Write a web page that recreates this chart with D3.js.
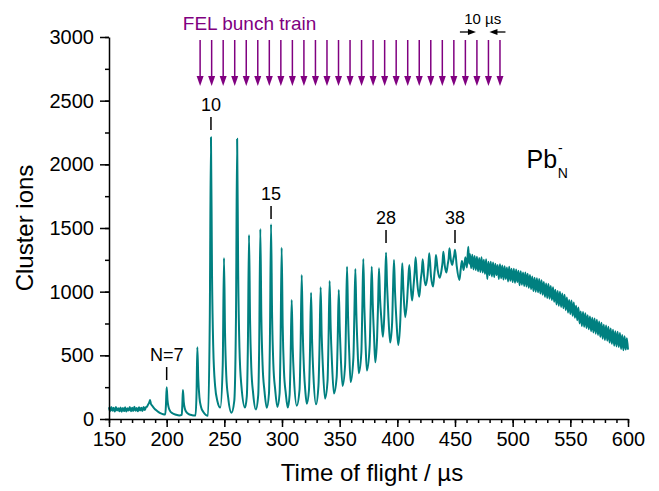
<!DOCTYPE html>
<html>
<head>
<meta charset="utf-8">
<script src="https://cdn.jsdelivr.net/npm/d3@7"></script>
<style>
  body { margin: 0; background: #fff; }
  text { font-family: "Liberation Sans", Arial, sans-serif; }
</style>
</head>
<body>
<div id="wrapper"></div>
<script>
// onset: flat background and the first small clusters (time in µs, ion counts)
const onsetSpectrum = [
  [150,92],[151,60],[152,94],[153,64],[154,88],[155,58],[156,95],[157,66],[158,84],[159,60],
  [160,90],[161,57],[162,86],[163,62],[164,92],[165,58],[166,85],[167,66],[168,94],[169,60],
  [170,88],[171,62],[172,96],[173,64],[174,86],[175,60],[176,92],[177,66],[178,88],[179,62],
  [180,95],[181,70],[182,92],[183,98],[184,115],[185,132],[185.6,150],[186.3,120],[187.5,104],
  [189,86],[191,68],[193,54],[195,44],[197,38],[198.8,36],[199.4,115],[200,249],[200.7,150],
  [201.6,95],[203,62],[205,45],[208,34],[211,28],[213.1,32],[213.6,115],[214.1,228],[214.8,135],
  [215.8,80],[217.3,52],[219.5,37],[222,30],[225,27],[225.9,200],[226.6,563],[227.4,320],
  [228.4,170],[229.8,95],[231.8,55],[234,32]
]

// resolved cluster peaks N = 10 ... 38
const peakSpectrum = [
  [235.8,25],[237.4,800],[238.4,2212],[239.3,1150],[240.4,560],[242,260],[244,140],[246.5,90],
  [248.6,420],[249.7,1264],[250.6,680],[251.7,340],[253.3,170],[256.2,50],
  [258.6,140],[260.1,800],[261.1,2200],[262,1150],[263.1,560],[264.8,260],[267.9,90],
  [269.5,180],[270.4,560],[271.4,1445],[272.3,780],[273.4,400],[275,200],[277.3,75],
  [279.4,190],[280.2,560],[281.2,1492],[282.1,800],[283.2,420],[284.8,220],[286.8,88],
  [288.7,200],[289.5,600],[290.5,1529],[291.4,820],[292.5,430],[294.1,230],[296,95],
  [297.9,200],[298.7,560],[299.7,1345],[300.6,730],[301.7,380],[303.3,200],[305,90],
  [306.6,190],[307.4,450],[308.4,935],[309.3,560],[310.4,320],[312.8,105],
  [315.2,230],[316.1,560],[317.1,1131],[318,680],[319.1,380],[320.3,210],[321.5,120],
  [323.4,230],[324.2,500],[325.2,992],[326.1,610],[327.2,350],[329.5,115],
  [331.6,260],[332.5,550],[333.5,1034],[334.4,660],[335.5,400],[337.3,160],
  [339.5,300],[340.3,600],[341.3,1084],[342.2,720],[343.3,450],[345,200],
  [347.4,330],[348.3,620],[349.2,1013],[350.1,700],[351.1,460],[352.5,260],
  [354.7,420],[355.5,760],[356.4,1196],[357.3,800],[358.3,520],[359.5,290],
  [361.9,480],[362.7,800],[363.6,1178],[364.5,820],[365.5,560],[366.6,360],
  [368.8,520],[369.6,850],[370.5,1257],[371.4,880],[372.4,600],[373.6,380],
  [376,570],[376.9,880],[377.8,1196],[378.7,900],[379.8,650],[380.9,445],
  [382.5,650],[383.3,900],[384.1,1183],[385,950],[386.2,780],[387.5,645],
  [388.7,820],[389.4,1050],[390.2,1306],[391.1,1050],[392.3,800],[393.8,600],
  [395.5,760],[396.2,1000],[397.1,1249],[398,1000],[399.3,760],[400.8,581],
  [402.6,780],[403.5,1030],[404.3,1223],[405.2,1030],[406.8,800],
  [408.6,950],[409.5,1100],[410.4,1209],[411.5,1060],[412.8,930],
  [414.2,1060],[415,1150],[415.9,1270],[417.2,1080],[419,960],
  [420.4,1100],[421.2,1160],[422,1254],[423.2,1120],[424.5,1050],
  [426.2,1130],[427,1220],[427.7,1301],[429.2,1120],[431,1040],
  [432.2,1150],[432.8,1200],[433.5,1288],[435,1170],[436.8,1110],
  [438.5,1180],[439.2,1230],[439.9,1314],[441.2,1200],[442.5,1150],
  [443.8,1220],[444.5,1260],[445.2,1340],[446.4,1250],[447.6,1210],
  [448.7,1260],[449.4,1290],[450,1330],[451.5,1200],[453.8,1092],
  [455,1180],[456,1240],[457.5,1170],[459,1270],[460.3,1190],[461.5,1353],[462.3,1220]
]

// unresolved tail, one reading per µs from 463 µs on
const tailStart = 463
const tailCounts = [
  1295, 1185, 1290, 1175, 1280, 1170, 1275, 1160,
  1265, 1155, 1270, 1150, 1250, 1140, 1255, 1100, 1235, 1130,
  1235, 1120, 1230, 1115, 1220, 1130, 1210, 1100, 1215, 1105,
  1205, 1095, 1200, 1100, 1190, 1080, 1195, 1085, 1180, 1075,
  1180, 1070, 1175, 1075, 1165, 1050, 1160, 1055, 1150, 1045,
  1150, 1040, 1140, 1030, 1130, 1020, 1120, 1005, 1110, 1000,
  1105, 995, 1100, 985, 1090, 975, 1075, 960, 1065, 950,
  1060, 945, 1045, 935, 1035, 920, 1015, 900, 1005, 890,
  1000, 880, 985, 870, 975, 855, 955, 835, 935, 825,
  930, 810, 915, 795, 890, 775, 875, 750, 845, 730,
  840, 725, 830, 715, 815, 705, 805, 690, 795, 680,
  790, 670, 780, 660, 765, 645, 755, 630, 740, 620,
  735, 615, 725, 600, 710, 590, 700, 575, 690, 570,
  685, 565, 675, 550, 660, 540, 650, 545, 635, 545
]

const xTickValues = [150, 200, 250, 300, 350, 400, 450, 500, 550, 600]
const yTickValues = [0, 500, 1000, 1500, 2000, 2500, 3000]

const peakLabels = ['N=7', '10', '15', '28', '38']
const peakLabelTimes = [200, 238.4, 290.5, 390.2, 450]
const peakLabelLevels = [306, 2270, 1571, 1382, 1382]

const bunchTimes = [229, 239, 249, 259, 269, 279, 289, 299, 309, 319, 329, 339, 349, 359,
  369, 379, 389, 399, 409, 419, 429, 439, 449, 459, 469, 479, 489]

const drawSpectrum = () => {
    const dimensions = {
        width: 659,
        height: 491,
        margin: { top: 37, right: 31, bottom: 72, left: 109 }
    }
    dimensions.boundedWidth = dimensions.width - dimensions.margin.left - dimensions.margin.right
    dimensions.boundedHeight = dimensions.height - dimensions.margin.top - dimensions.margin.bottom

    const wrapper = d3.select('#wrapper')
        .append('svg')
        .attr('width', dimensions.width)
        .attr('height', dimensions.height)
        .style('background-color', '#ffffff')

    const bounds = wrapper.append('g')
        .attr('transform', `translate(${dimensions.margin.left}, ${dimensions.margin.top})`)

    const data = onsetSpectrum
        .concat(peakSpectrum)
        .concat(tailCounts.map((v, i) => [tailStart + i, v]))

    const scaleX = d3.scaleLinear()
        .domain([150, 600])
        .range([0, dimensions.boundedWidth])

    const scaleY = d3.scaleLinear()
        .domain([0, 3000])
        .range([dimensions.boundedHeight, 0])

    // spectrum
    const lineGenerator = d3.line()
        .x(d => scaleX(d[0]))
        .y(d => scaleY(d[1]))
        .curve(d3.curveMonotoneX)

    bounds.append('path')
        .datum(data)
        .attr('d', lineGenerator)
        .attr('fill', 'none')
        .attr('stroke', '#008080')
        .attr('stroke-width', 2)
        .attr('stroke-linejoin', 'round')

    // axes (major + minor ticks)
    const xMinor = bounds.append('g')
        .attr('transform', `translate(0, ${dimensions.boundedHeight})`)
        .call(d3.axisBottom(scaleX).tickValues(d3.range(150, 601, 10)).tickSize(4).tickFormat(''))
    const xAxis = bounds.append('g')
        .attr('transform', `translate(0, ${dimensions.boundedHeight})`)
        .call(d3.axisBottom(scaleX).tickValues(xTickValues).tickSize(8).tickSizeOuter(0).tickPadding(5))

    const yMinor = bounds.append('g')
        .call(d3.axisLeft(scaleY).tickValues(d3.range(0, 3001, 250)).tickSize(4).tickFormat(''))
    const yAxis = bounds.append('g')
        .call(d3.axisLeft(scaleY).tickValues(yTickValues).tickFormat(d3.format('d'))
            .tickSize(9).tickSizeOuter(0).tickPadding(6))

    ;[xMinor, xAxis, yMinor, yAxis].forEach(g => {
        g.selectAll('path, line').attr('stroke', '#000').attr('stroke-width', 1.5)
        g.selectAll('text')
            .attr('fill', '#000')
            .style('font-size', '20px')
            .style('font-family', '"Liberation Sans", Arial, sans-serif')
    })
    xMinor.select('.domain').remove()
    yMinor.select('.domain').remove()

    wrapper.append('text')
        .text('Time of flight / µs')
        .attr('x', 372)
        .attr('y', 481)
        .attr('text-anchor', 'middle')
        .style('font-size', '24px')

    wrapper.append('text')
        .text('Cluster ions')
        .attr('transform', `translate(33, ${dimensions.margin.top + dimensions.boundedHeight / 2}) rotate(-90)`)
        .attr('text-anchor', 'middle')
        .style('font-size', '24px')

    // cluster size labels
    const labels = bounds.selectAll('.peak-label')
        .data(peakLabels)
        .join('g')
        .attr('class', 'peak-label')
        .attr('transform', (d, i) => `translate(${scaleX(peakLabelTimes[i])}, ${scaleY(peakLabelLevels[i])})`)
    labels.append('line')
        .attr('y1', 0)
        .attr('y2', -13)
        .attr('stroke', '#000')
        .attr('stroke-width', 1.5)
    labels.append('text')
        .text(d => d)
        .attr('y', -19)
        .attr('text-anchor', 'middle')
        .style('font-size', '18px')

    // Pb_N^- label
    const pb = bounds.append('text')
        .attr('x', scaleX(512))
        .attr('y', scaleY(1970))
        .style('font-size', '25px')
    pb.append('tspan').text('Pb')
    pb.append('tspan').text('-').attr('dx', 1).attr('dy', -15).style('font-size', '14px')
    pb.append('tspan').text('N').attr('dx', -5).attr('dy', 25).style('font-size', '14px')

    // FEL bunch train arrows
    const purple = '#800080'
    bounds.append('text')
        .text('FEL bunch train')
        .attr('x', scaleX(214))
        .attr('y', -7)
        .attr('fill', purple)
        .style('font-size', '19px')

    const arrows = bounds.selectAll('.bunch')
        .data(bunchTimes)
        .join('g')
        .attr('class', 'bunch')
        .attr('transform', d => `translate(${scaleX(d)}, 0)`)
    arrows.append('line')
        .attr('y1', 3)
        .attr('y2', 41)
        .attr('stroke', purple)
        .attr('stroke-width', 1.5)
    arrows.append('path')
        .attr('d', 'M-3.5,39L3.5,39L0,49Z')
        .attr('fill', purple)

    // 10 µs spacing marker
    const xa = scaleX(bunchTimes[24]) - 1
    const xb = scaleX(bunchTimes[25]) + 1
    const ym = -5
    const marker = bounds.append('g')
    marker.append('line').attr('x1', xa - 16).attr('x2', xa - 6).attr('y1', ym).attr('y2', ym)
        .attr('stroke', '#000').attr('stroke-width', 1.3)
    marker.append('path').attr('d', `M${xa},${ym}L${xa - 8},${ym - 3}L${xa - 8},${ym + 3}Z`).attr('fill', '#000')
    marker.append('line').attr('x1', xb + 6).attr('x2', xb + 16).attr('y1', ym).attr('y2', ym)
        .attr('stroke', '#000').attr('stroke-width', 1.3)
    marker.append('path').attr('d', `M${xb},${ym}L${xb + 8},${ym - 3}L${xb + 8},${ym + 3}Z`).attr('fill', '#000')
    bounds.append('text')
        .text('10 µs')
        .attr('x', (xa + xb) / 2)
        .attr('y', -13)
        .attr('text-anchor', 'middle')
        .style('font-size', '15px')
}
drawSpectrum()
</script>
</body>
</html>
